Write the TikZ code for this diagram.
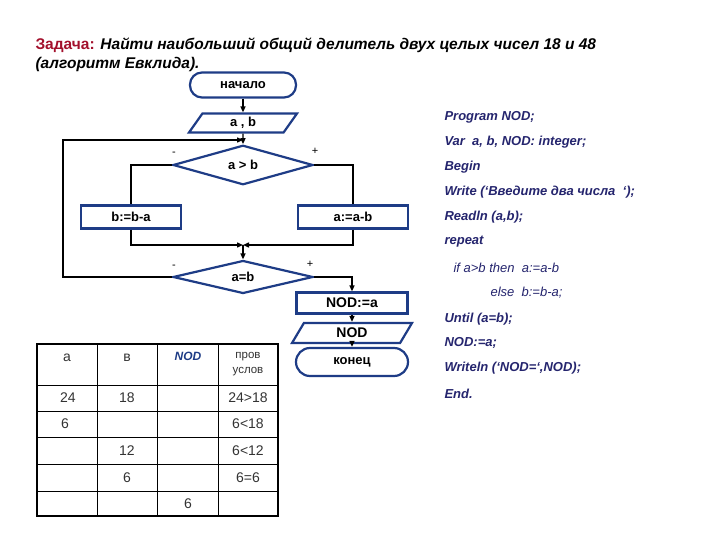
\documentclass[tikz,border=0pt]{standalone}
\usepackage{fontspec}
\setmainfont{Liberation Sans}
\usetikzlibrary{arrows.meta, shapes.geometric, calc}
\definecolor{flowblue}{HTML}{1E3C86}
\definecolor{taskred}{HTML}{A3102C}
\definecolor{codenavy}{HTML}{25256E}
\definecolor{cellgrey}{HTML}{333333}
\tikzset{
  >={Triangle[length=6pt, width=5pt]},
  blk/.style={draw=flowblue, line width=2.2pt, fill=white, align=center,
              inner sep=1pt, font=\fontsize{13}{15}\selectfont\bfseries},
  term/.style={blk, rectangle, rounded corners=12pt},
  proc/.style={blk, rectangle, minimum height=23pt},
  io/.style={blk, trapezium, trapezium left angle=45, trapezium right angle=135,
             trapezium stretches body, minimum height=19pt},
  cond/.style={blk, diamond, minimum width=140pt, minimum height=33pt, inner sep=0pt},
  line/.style={draw=black, line width=1.4pt},
  flow/.style={line, ->},
  sgn/.style={font=\fontsize{11}{13}\selectfont},
  code/.style={anchor=west, text=codenavy, font=\fontsize{13}{15}\selectfont\bfseries\itshape},
  codel/.style={code, font=\fontsize{13}{15}\selectfont\itshape},
  cell/.style={text=cellgrey, font=\fontsize{14}{16}\selectfont},
}

\begin{document}
\begin{tikzpicture}[x=1pt, y=-1pt]
  \useasboundingbox[fill=white] (0,0) rectangle (720,540);

  % task
  \node[anchor=west, font=\fontsize{15.5}{18}\selectfont\bfseries] (task1) at (32,45)
    {\textcolor{taskred}{Задача:} \itshape Найти наибольший общий делитель двух целых чисел 18 и 48};
  \node[anchor=west, font=\fontsize{15.5}{18}\selectfont\bfseries\itshape] (task2) at (32,64)
    {(алгоритм Евклида).};

  % flowchart
  \node[term, minimum width=106pt, minimum height=25pt] (nachalo) at (243,85) {начало};
  \node[io, minimum width=108pt] (inab) at (243,123) {a , b};
  \coordinate (j1) at (243,140);
  \coordinate (lp) at (63,140);
  \node[cond] (cond1) at (243,165) {a > b};
  \node[proc, minimum width=100pt] (subb) at (131,217) {b:=b-a};
  \node[proc, minimum width=110pt] (suba) at (353,217) {a:=a-b};
  \coordinate (j2) at (243,245);
  \node[cond] (cond2) at (243,277) {a=b};
  \node[proc, minimum width=111pt, minimum height=21pt, font=\fontsize{14}{16}\selectfont\bfseries] (res) at (352,303) {NOD:=a};
  \node[io, minimum width=120pt, minimum height=20pt, font=\fontsize{14}{16}\selectfont\bfseries] (outn) at (352,333) {NOD};
  \node[term, minimum width=112pt, minimum height=28pt, rounded corners=14pt] (konec) at (352,362) {конец};

  \node[sgn] (m1) at (174,154) {-};
  \node[sgn] (p1) at (315,151) {+};
  \node[sgn] (m2) at (174,267) {-};
  \node[sgn] (p2) at (310,264) {+};

  \draw[flow] (nachalo) -- (inab);
  \draw[flow] (inab) -- (cond1);
  \draw[line] (cond1.west) -| (subb.north);
  \draw[line] (cond1.east) -| (suba.north);
  \draw[flow] (subb.south) |- (j2);
  \draw[flow] (suba.south) |- (j2);
  \draw[flow] (j2) -- (cond2.north);
  \draw[flow] (cond2.west) -| (lp) -- (j1);
  \draw[flow] (cond2.east) -| (res.north);
  \draw[flow] (res) -- (outn);
  \draw[flow] (outn) -- (konec);

  % pascal text
  \foreach \y/\t [count=\i] in {117/{Program NOD;}, 142/{Var\ \ a, b, NOD: integer;}, 167/{Begin},
      192/{Write (‘Введите два числа\ \ ‘);}, 217/{Readln (a,b);}, 242/{repeat},
      319/{Until (a=b);}, 343/{NOD:=a;}, 368/{Writeln (‘NOD=‘,NOD);}, 394/{End.}}{
    \node[code] (code\i) at (441,\y) {\t};
  }
  \node[codel] (ifl) at (450,268) {if a>b then\ \ a:=a-b};
  \node[codel] (elsel) at (487,293) {else\ \ b:=b-a;};

  % trace table
  \foreach \x in {97,157,218}{
    \draw[line width=1pt] (\x,344) -- (\x,516);
  }
  \foreach \y in {385,411,437,464,491}{
    \draw[line width=1pt] (37,\y) -- (278,\y);
  }
  \draw[line width=2pt] (37,344) rectangle (278,516);
  \foreach \x/\y/\t [count=\i] in {67/358/а, 127/358/в, 68/398/24, 127/398/18, 248/398/24>18,
      65/424/6, 248/424/6<18, 127/451/12, 248/451/6<12, 127/478/6, 248/478/6=6, 188/504/6}{
    \node[cell] (c\i) at (\x,\y) {\t};
  }
  \node[text=flowblue, font=\fontsize{12}{14}\selectfont\bfseries\itshape] (hnod) at (188,356) {NOD};
  \node[cell, align=center, font=\fontsize{11.5}{15}\selectfont] (hcheck) at (248,364) {пров\\услов};
\end{tikzpicture}
\end{document}
